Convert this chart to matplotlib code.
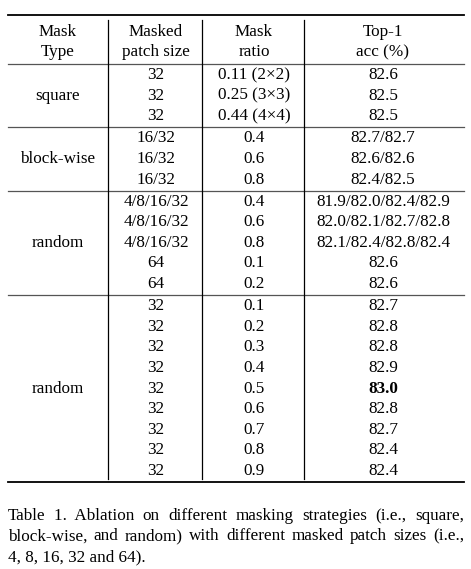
import matplotlib
matplotlib.use("Agg")
import matplotlib.pyplot as plt

plt.rcParams['font.family'] = ['Liberation Serif', 'DejaVu Serif']

header1 = ["Mask", "Masked", "Mask", "Top-1"]
header2 = ["Type", "patch size", "ratio", "acc (%)"]
groups = ["square", "block-wise", "random", "random"]
patch = [["32", "32", "32"],
         ["16/32", "16/32", "16/32"],
         ["4/8/16/32", "4/8/16/32", "4/8/16/32", "64", "64"],
         ["32"] * 9]
ratio = [["0.11 (2×2)", "0.25 (3×3)", "0.44 (4×4)"],
         ["0.4", "0.6", "0.8"],
         ["0.4", "0.6", "0.8", "0.1", "0.2"],
         ["0.1", "0.2", "0.3", "0.4", "0.5", "0.6", "0.7", "0.8", "0.9"]]
acc = [["82.6", "82.5", "82.5"],
       ["82.7/82.7", "82.6/82.6", "82.4/82.5"],
       ["81.9/82.0/82.4/82.9", "82.0/82.1/82.7/82.8", "82.1/82.4/82.8/82.4", "82.6", "82.6"],
       ["82.7", "82.8", "82.8", "82.9", "83.0", "82.8", "82.7", "82.4", "82.4"]]
caption = ["Table 1.  Ablation on different masking strategies (i.e., square,",
           "block-wise, and random) with different masked patch sizes (i.e.,",
           "4, 8, 16, 32 and 64)."]

W, H = 471, 569
fig = plt.figure(figsize=(W/100, H/100), dpi=100)
ax = fig.add_axes([0, 0, 1, 1])
ax.set_xlim(0, W); ax.set_ylim(H, 0); ax.axis('off')

cx = [58, 156, 254, 383]
vx = [108, 202, 304]
L, R = 8, 464
fs = 12.3
ax.plot([L, R], [15, 15], color='k', lw=1.3)
for i in range(4):
    ax.text(cx[i], 32, header1[i], ha='center', va='center', fontsize=fs)
    ax.text(cx[i], 52, header2[i], ha='center', va='center', fontsize=fs)
ax.plot([L, R], [64, 64], color='#555555', lw=0.9)
y = 64
step = 20.6
for g in range(4):
    start = y
    n = len(patch[g])
    for r in range(n):
        yy = y + 11 + r * step
        ax.text(cx[1], yy, patch[g][r], ha='center', va='center', fontsize=fs)
        ax.text(cx[2], yy, ratio[g][r], ha='center', va='center', fontsize=fs)
        bold = acc[g][r] == "83.0"
        ax.text(cx[3], yy, acc[g][r], ha='center', va='center', fontsize=fs,
                fontweight='bold' if bold else 'normal')
    end = y + n * step + 1.5
    ax.text(cx[0], (start + end) / 2, groups[g], ha='center', va='center', fontsize=fs)
    last = g == 3
    ax.plot([L, R], [end, end], color='k' if last else '#555555', lw=1.3 if last else 0.9)
    y = end
for v in vx:
    ax.plot([v, v], [20, y - 3], color='k', lw=0.9)

fig.canvas.draw()
rend = fig.canvas.get_renderer()
inv = ax.transData.inverted()
def width(s):
    t = ax.text(0, 0, s, fontsize=fs)
    bb = t.get_window_extent(rend)
    t.remove()
    return bb.width
for i, c in enumerate(caption):
    yy = 516 + i * 20.5
    if i < 2:
        words = c.replace("1.  ", "1.\u0000").split(" ")
        words = [w.replace("\u0000", "  ") for w in words]
        ws = [width(w) for w in words]
        gap = (R - L - sum(ws)) / (len(words) - 1)
        x = L
        for w, wd in zip(words, ws):
            ax.text(x, yy, w, ha='left', va='center', fontsize=fs)
            x += wd + gap
    else:
        ax.text(L, yy, c, ha='left', va='center', fontsize=fs)
fig.savefig("out.png", dpi=100)
